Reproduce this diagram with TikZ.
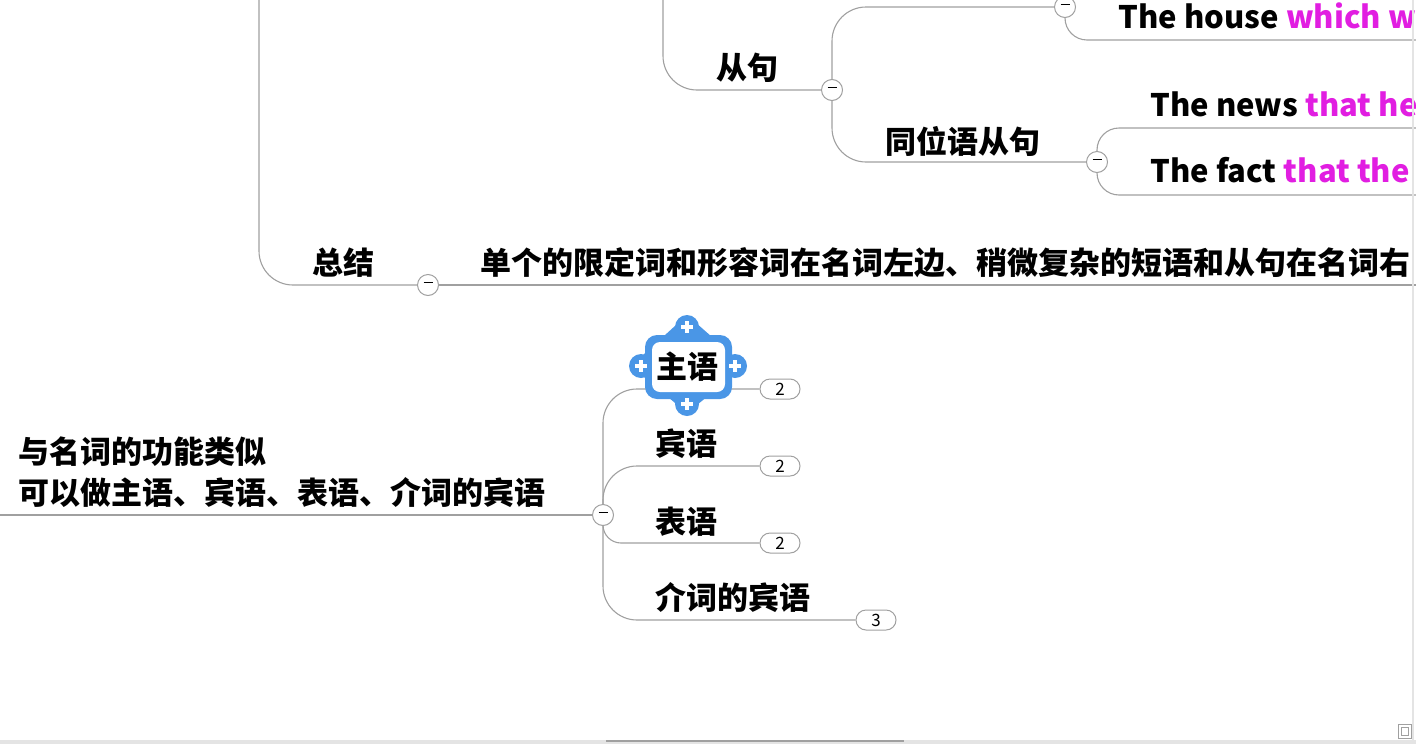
\documentclass[tikz,border=0pt]{standalone}
\usepackage{fontspec}
\setmainfont{Noto Sans CJK SC}
\usepackage{tikz}

\definecolor{linea}{RGB}{160,160,160}
\definecolor{rosa}{RGB}{225,30,225}
\definecolor{azul}{RGB}{74,150,230}
\definecolor{marco}{RGB}{228,228,228}

\newcommand{\menos}{\rule[2.3pt]{4.5pt}{0.6pt}}

\begin{document}
\begin{tikzpicture}[x=0.5pt,y=-0.5pt]

% Tamano de la hoja
\useasboundingbox (0,0) rectangle (1416,744);
\clip (0,0) rectangle (1416,744);

% Estilos de ramas, textos y botones
\tikzstyle{rama}=[draw=linea, line width=0.55pt, rounded corners=17pt]
\tikzstyle{texto}=[font=\fontsize{15.5}{20.5}\selectfont\bfseries, inner sep=0pt]
\tikzstyle{boton}=[circle, draw=linea, fill=white, minimum size=10.5pt, inner sep=0pt, line width=0.5pt]
\tikzstyle{cuenta}=[rectangle, rounded corners=5pt, draw=linea, fill=white, minimum width=20pt, minimum height=10pt, inner sep=0pt, line width=0.5pt, font=\fontsize{8.5}{9}\selectfont]

% Puntos libres de las ramas
\coordinate (raizA) at (259,0);
\coordinate (raizB) at (663,0);
\coordinate (izq) at (0,515);
\coordinate (finZ) at (1416,285);
\coordinate (finCasa) at (1416,40);
\coordinate (finNews) at (1416,128);
\coordinate (finFact) at (1416,195);

% Botones de plegar
\node[boton] (bZ) at (428,285) {};
\node[boton] (bC) at (832,90) {};
\node[boton] (bD) at (1065,7) {};
\node[boton] (bA) at (1097,162) {};
\node[boton] (bF) at (603,515) {};

% Contadores
\node[cuenta] (n1) at (780,389) {2};
\node[cuenta] (n2) at (780,466) {2};
\node[cuenta] (n3) at (780,543) {2};
\node[cuenta] (n4) at (876,620) {3};

% Ramas de arriba
\draw[rama] (raizA) |- (bZ.west);
\draw[rama] (bZ.east) -- (finZ);
\draw[rama] (raizB) |- (bC.west);
\draw[rama] (bC.north) |- (bD.west);
\draw[rama, rounded corners=11pt] (bD.south) |- (finCasa);
\draw[rama] (bC.south) |- (bA.west);
\draw[rama, rounded corners=11pt] (bA.north) |- (finNews);
\draw[rama, rounded corners=11pt] (bA.south) |- (finFact);

% Ramas de abajo
\draw[rama] (izq) -- (bF.west);
\draw[rama] (bF.north) |- (n1.west);
\draw[rama] (bF.north) |- (n2.west);
\draw[rama, rounded corners=9pt] (bF.south) |- (n3.west);
\draw[rama] (bF.south) |- (n4.west);

% Signos menos
\foreach \b in {bZ,bC,bD,bA,bF}
    \node[inner sep=0pt] at (\b) {\menos};

% Marca de seleccion
\fill[azul, rounded corners=2.5pt] (631,366) -- (687,315) -- (745,366) -- (687,413) -- cycle;
\fill[azul, rounded corners=6pt] (645,335) rectangle (732,399);
\foreach \p in {(687,327),(641,366),(735,366),(687,404)}
    \fill[azul] \p circle (6pt);
\fill[white, rounded corners=4pt] (652,342) rectangle (725,392);
\foreach \p in {(687,327),(641,366),(735,366),(687,404)}
    \draw[white, line width=1.6pt] \p ++(-6,0) -- ++(12,0) \p ++(0,-6) -- ++(0,12);

% Textos
\node[texto] (zongjie) at (343,263) {总结};
\node[texto, anchor=west] (resumen) at (480,263) {单个的限定词和形容词在名词左边、稍微复杂的短语和从句在名词右};
\node[texto] (congju) at (747,68) {从句};
\node[texto] (tongwei) at (963,141) {同位语从句};
\node[texto, anchor=base west] (casa) at (1118,28) {The house \textcolor{rosa}{which w}};
\node[texto, anchor=base west] (news) at (1150,116) {The news \textcolor{rosa}{that he}};
\node[texto, anchor=base west] (fact) at (1150,182) {The fact \textcolor{rosa}{that the}};
\node[texto, anchor=west, align=left] (funcion) at (18,472) {与名词的功能类似\\可以做主语、宾语、表语、介词的宾语};
\node[texto] (zhuyu) at (687,367) {主语};
\node[texto] (binyu) at (686,444) {宾语};
\node[texto] (biaoyu) at (686,522) {表语};
\node[texto] (jieci) at (733,598) {介词的宾语};

% Bordes de la ventana
\fill[marco] (0,740) rectangle (1416,744);
\draw[linea, line width=0.6pt] (606,741) -- (904,741);
\draw[marco, line width=1pt] (1413,0) -- (1413,740);
\draw[linea, line width=0.5pt] (1398,724) rectangle (1411,738);
\draw[linea, line width=0.4pt] (1401,727) rectangle (1408,735);

\end{tikzpicture}
\end{document}
